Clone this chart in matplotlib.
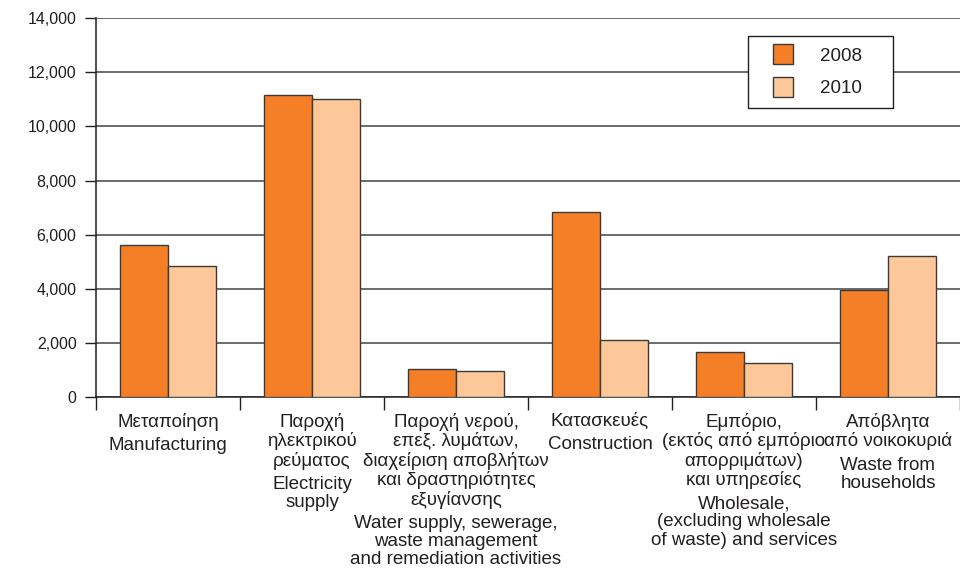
import matplotlib
matplotlib.use("Agg")
import matplotlib.pyplot as plt
import numpy as np
from matplotlib.lines import Line2D
from matplotlib.ticker import FuncFormatter

plt.rcParams["font.family"] = ["Liberation Sans", "DejaVu Sans"]

labels_gr = [
    "Μεταποίηση",
    "Παροχή\nηλεκτρικού\nρεύματος",
    "Παροχή νερού,\nεπεξ. λυμάτων,\nδιαχείριση αποβλήτων\nκαι δραστηριότητες\nεξυγίανσης",
    "Κατασκευές",
    "Εμπόριο,\n(εκτός από εμπόριο\nαπορριμάτων)\nκαι υπηρεσίες",
    "Απόβλητα\nαπό νοικοκυριά",
]
labels_en = [
    "Manufacturing",
    "Electricity\nsupply",
    "Water supply, sewerage,\nwaste management\nand remediation activities",
    "Construction",
    "Wholesale,\n(excluding wholesale\nof waste) and services",
    "Waste from\nhouseholds",
]
values_2008 = [5600, 11150, 1050, 6830, 1650, 3950]
values_2010 = [4850, 11000, 950, 2100, 1250, 5200]
yticks = [0, 2000, 4000, 6000, 8000, 10000, 12000, 14000]

ink = "#231f20"
edge = "#3a3a3a"
c2008 = "#f47f26"
c2010 = "#fcc899"

fig = plt.figure(figsize=(9.6, 5.68), dpi=100)
ax = fig.add_axes([0.1, 0.301, 0.9, 0.667])

x = np.arange(len(labels_gr))
w = 0.335
ax.bar(x - w / 2, values_2008, w, color=c2008, edgecolor=edge, linewidth=1.0, zorder=3)
ax.bar(x + w / 2, values_2010, w, color=c2010, edgecolor=edge, linewidth=1.0, zorder=3)

ax.set_xlim(-0.5, len(labels_gr) - 0.5)
ax.set_ylim(0, 14000)
ax.set_yticks(yticks)
ax.yaxis.set_major_formatter(FuncFormatter(lambda v, p: f"{int(v):,}"))
ax.tick_params(axis="y", direction="out", length=8, width=1.0, color=ink, labelsize=11.5, labelcolor=ink, pad=6)
ax.grid(axis="y", color="#444444", linewidth=1.1, zorder=0)

# category dividers below the axis
ax.set_xticks(np.arange(-0.5, len(labels_gr), 1.0))
ax.set_xticklabels([])
ax.tick_params(axis="x", direction="out", length=9, width=1.0, color=ink)

for side in ["top", "right"]:
    ax.spines[side].set_visible(False)
for side in ["left", "bottom"]:
    ax.spines[side].set_color(ink)
    ax.spines[side].set_linewidth(1.1)

for i in x:
    gr = ax.annotate(labels_gr[i], xy=(i, 0), xycoords=("data", "axes fraction"),
                     xytext=(0, -11.5), textcoords="offset points", ha="center", va="top",
                     fontsize=13.5, color=ink, linespacing=1.1, multialignment="center")
    ax.annotate(labels_en[i], xy=(0.5, 0), xycoords=gr,
                xytext=(0, -4.5), textcoords="offset points", ha="center", va="top",
                fontsize=13.5, color=ink, linespacing=1.08, multialignment="center")

handles = [
    Line2D([], [], linestyle="none", marker="s", markersize=15, markerfacecolor=c2008,
           markeredgecolor=edge, markeredgewidth=1.0),
    Line2D([], [], linestyle="none", marker="s", markersize=15, markerfacecolor=c2010,
           markeredgecolor=edge, markeredgewidth=1.0),
]
leg = ax.legend(handles, ["2008", "2010"], loc="upper left", mode="expand",
                bbox_to_anchor=(0.7546, 0.0, 0.1678, 0.952), fontsize=13.5, frameon=True,
                fancybox=False, edgecolor=ink, framealpha=1, borderpad=0.6,
                handlelength=2.56, handletextpad=0.69, labelspacing=0.82,
                borderaxespad=0)
leg.get_frame().set_linewidth(1.0)
for t in leg.get_texts():
    t.set_color(ink)

fig.savefig("out.png", dpi=100)
